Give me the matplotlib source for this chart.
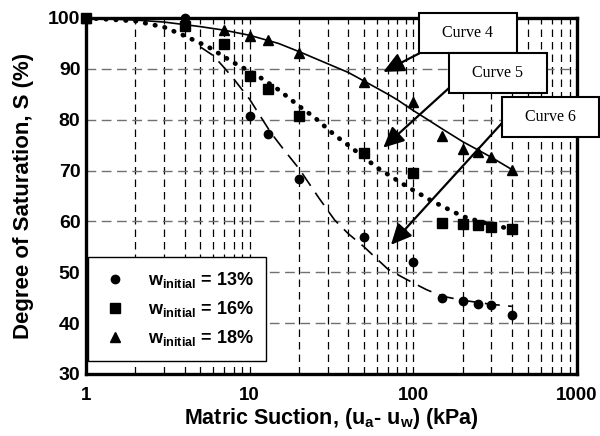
import matplotlib
matplotlib.use("Agg")
import matplotlib.pyplot as plt
from matplotlib.patches import Rectangle
from matplotlib.ticker import LogLocator, FixedLocator, NullFormatter

plt.rcParams['font.family'] = ['Liberation Sans', 'DejaVu Sans']
plt.rcParams['mathtext.fontset'] = 'custom'
plt.rcParams['mathtext.rm'] = 'Liberation Sans:bold'
plt.rcParams['mathtext.bf'] = 'Liberation Sans:bold'
plt.rcParams['mathtext.it'] = 'Liberation Sans:bold'

# measured data
w13_x = [1, 4, 10, 13, 20, 50, 100, 150, 200, 250, 300, 400]
w13_y = [100, 100, 80.8, 77.2, 68.3, 56.9, 52.0, 45.0, 44.3, 43.8, 43.6, 41.6]
w16_x = [1, 4, 7, 10, 13, 20, 50, 100, 150, 200, 250, 300, 400]
w16_y = [100, 98.4, 94.9, 88.5, 86.1, 80.8, 73.5, 69.5, 59.7, 59.5, 59.2, 59.0, 58.5]
w18_x = [1, 7, 10, 13, 20, 50, 100, 150, 200, 250, 300, 400]
w18_y = [100, 97.6, 96.5, 95.6, 93.1, 87.5, 83.5, 76.8, 74.3, 73.7, 72.7, 70.2]

# fitted curves
c4_x = [1, 2, 3, 4, 5, 7, 10, 15, 20, 30, 40, 50, 60, 70, 80, 100, 120, 150, 200, 250, 300, 400]
c4_y = [100, 99.6, 99.2, 98.7, 98.3, 97.6, 96.6, 95.0, 93.4, 91.0, 89.3, 87.6, 86.2, 85.0, 83.9,
        81.8, 80.2, 78.2, 75.7, 74.0, 72.6, 70.2]
c5_x = [1, 2, 3, 4, 5.6, 8, 11, 15, 20, 25, 33, 40, 60, 90, 130, 200, 300, 400]
c5_y = [100, 99.4, 98.2, 96.5, 94.3, 91.2, 88.8, 85.9, 82.7, 80.4, 77.0, 75.0, 70.6, 67.0, 64.0,
        61.0, 59.3, 58.5]
c6_x = [5, 6, 7, 8, 10, 13.5, 16, 20, 26.5, 33, 40, 50, 60, 70, 85, 100, 120, 150, 200, 300, 400]
c6_y = [94.3, 92.6, 90.2, 88.0, 84.0, 77.4, 74.3, 70.4, 64.6, 60.3, 57.6, 55.0, 52.6, 50.6, 49.1,
        47.9, 46.6, 45.3, 44.5, 43.7, 43.3]

legend_labels = [r"w$_{\mathbf{initial}}$ = 13%", r"w$_{\mathbf{initial}}$ = 16%", r"w$_{\mathbf{initial}}$ = 18%"]
curve_names = ["Curve 4", "Curve 5", "Curve 6"]
arrow_targets = [(65.5, 89.4), (65.5, 74.5), (73, 55.4)]

fig = plt.figure(figsize=(6.0, 4.36), dpi=100)
ax = fig.add_axes([86/600, 1-374/436, (577-86)/600, (374-18)/436])

ax.set_xscale('log')
ax.set_xlim(1, 1000)
ax.set_ylim(30, 100)

# grid
ax.xaxis.set_major_locator(FixedLocator([1, 10, 100, 1000]))
ax.xaxis.set_minor_locator(LogLocator(base=10, subs=range(2, 10)))
ax.xaxis.set_minor_formatter(NullFormatter())
ax.set_xticks([1, 10, 100, 1000])
ax.set_xticklabels(['1', '10', '100', '1000'])
ax.set_yticks(range(30, 101, 10))
ax.grid(True, which='both', axis='x', color='black', linestyle=(0, (6, 4)), linewidth=0.9)
ax.grid(True, which='major', axis='y', color='#707070', linestyle=(0, (7, 4)), linewidth=1.0)
ax.tick_params(axis='x', which='both', length=0, pad=9)
ax.tick_params(axis='y', which='both', length=0, pad=4)
for lab in ax.get_xticklabels():
    lab.set_fontsize(13.5)
    lab.set_fontweight('bold')
for lab in ax.get_yticklabels():
    lab.set_fontsize(14)
    lab.set_fontweight('bold')

# curves
ax.plot(c4_x, c4_y, color='black', linewidth=1.2, linestyle='-')
ax.plot(c5_x, c5_y, color='black', linewidth=3.4, linestyle=(0, (0.1, 2.0)), dash_capstyle='round')
ax.plot(c6_x, c6_y, color='black', linewidth=1.2, linestyle=(0, (9, 5)))

# markers
h1, = ax.plot(w13_x, w13_y, 'o', color='black', markersize=6, linestyle='none', clip_on=False, zorder=5)
h2, = ax.plot(w16_x, w16_y, 's', color='black', markersize=6.5, linestyle='none', clip_on=False, zorder=5)
h3, = ax.plot(w18_x, w18_y, '^', color='black', markersize=7, linestyle='none', clip_on=False, zorder=5)

for s in ax.spines.values():
    s.set_linewidth(2.4)

ax.set_xlabel(r"Matric Suction, (u$_a$- u$_w$) (kPa)", fontsize=15.5, fontweight='bold', labelpad=2)
ax.set_ylabel("Degree of Saturation, S (%)", fontsize=16, fontweight='bold', labelpad=10)

leg = ax.legend([h1, h2, h3], legend_labels, loc='lower left',
                bbox_to_anchor=(0.004, 0.037), fontsize=13, frameon=True,
                fancybox=False, edgecolor='black', framealpha=1,
                borderpad=0.7, labelspacing=0.5, handletextpad=1.0,
                handlelength=1.6, borderaxespad=0.0)
leg.get_frame().set_linewidth(1.0)
for t in leg.get_texts():
    t.set_fontweight('bold')

# callout boxes (pixel coords -> figure fraction)
boxes = [(419, 13, 98, 40), (449, 53, 98, 40), (502, 97, 97, 40)]
starts = [(420, 53), (449, 88), (502, 123)]
W, H = 600.0, 436.0
for name, (bx, by, bw, bh), (sx, sy), tgt in zip(curve_names, boxes, starts, arrow_targets):
    ax.annotate('', xy=tgt, xycoords='data',
                xytext=(sx/W, 1-sy/H), textcoords='figure fraction',
                arrowprops=dict(arrowstyle='-|>,head_length=0.7,head_width=0.33', color='black', lw=1.6,
                                mutation_scale=18, shrinkA=0, shrinkB=0),
                zorder=8, annotation_clip=False)
    rect = Rectangle((bx/W, 1-(by+bh)/H), bw/W, bh/H, transform=fig.transFigure,
                     facecolor='white', edgecolor='black', linewidth=1.5,
                     zorder=9, clip_on=False)
    fig.add_artist(rect)
    fig.text((bx+bw/2)/W, 1-(by+bh/2)/H, name, ha='center', va='center',
             fontsize=11.5, family='Liberation Serif', zorder=10)

fig.savefig('out.png', dpi=100)
